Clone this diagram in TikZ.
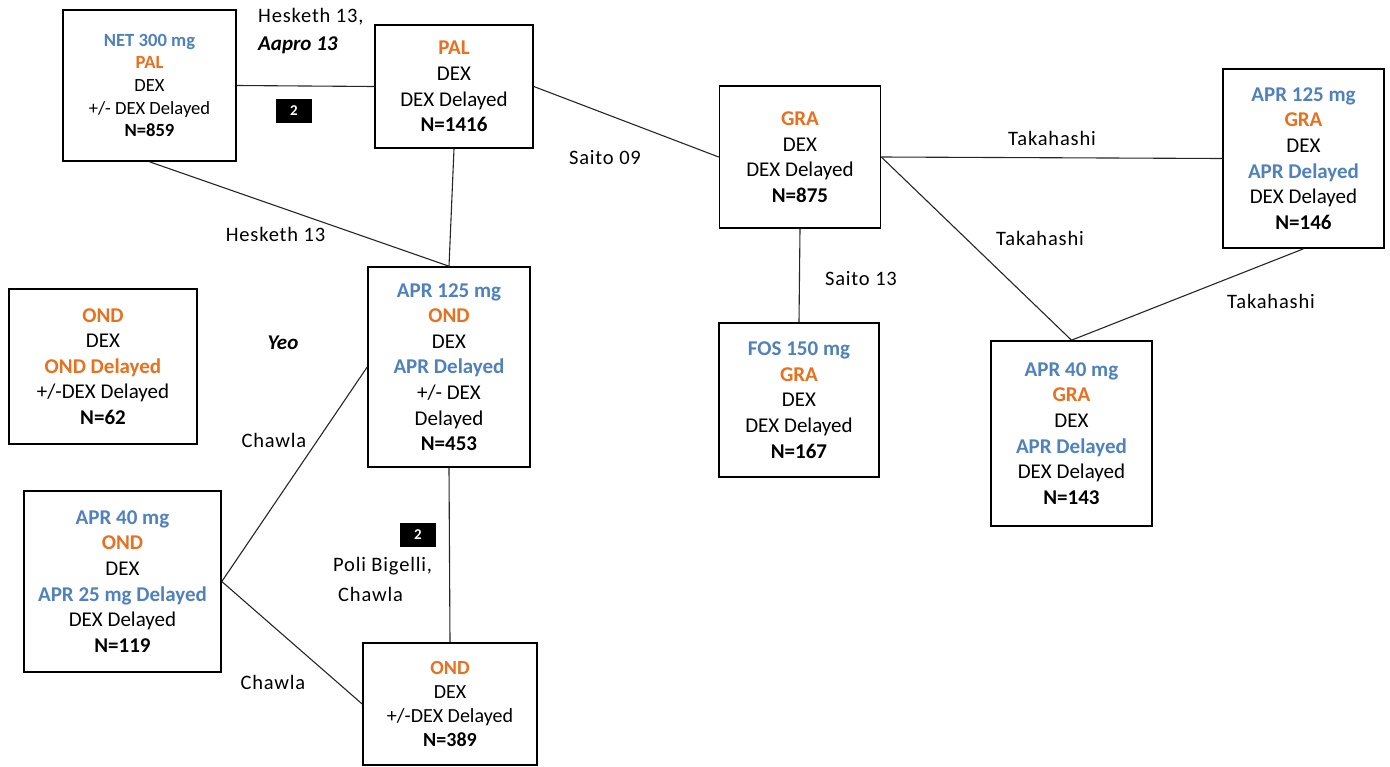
\documentclass[tikz,border=0pt]{standalone}
\usepackage{fontspec}
\setmainfont{Carlito}
\newfontfamily\lblfont[LetterSpace=4]{Carlito}
\definecolor{drugblue}{RGB}{79,129,189}
\definecolor{drugorange}{RGB}{232,112,30}
\newcommand{\Bl}[1]{\textcolor{drugblue}{\textbf{#1}}}
\newcommand{\Or}[1]{\textcolor{drugorange}{\textbf{#1}}}
\begin{document}
\begin{tikzpicture}[x=1pt,y=-1pt,
  arm/.style={draw=black, line width=1.6pt, fill=white, inner sep=0pt,
    align=center, minimum width=#1},
  big/.style={font=\fontsize{21}{25.6}\selectfont},
  small/.style={font=\fontsize{18.6}{22.7}\selectfont},
  mid/.style={font=\fontsize{20}{24}\selectfont},
  link/.style={draw=black!85, line width=1.1pt},
  lbl/.style={font=\lblfont\fontsize{20.5}{24}\selectfont, inner sep=0pt},
  lblbi/.style={font=\fontsize{21}{25}\selectfont\bfseries\itshape, inner sep=0pt},
  tag/.style={fill=black, text=white, font=\fontsize{15}{15}\selectfont\bfseries,
    minimum width=36pt, minimum height=24pt, inner sep=0pt}]
\useasboundingbox (0,0) rectangle (1390,766);

% treatment arms
\node[arm=173pt, minimum height=151pt, small] (net) at (149.5,85.5)
  {\Bl{NET 300 mg}\\\Or{PAL}\\DEX\\+/- DEX Delayed\\\textbf{N=859}};
\node[arm=158pt, minimum height=123pt, big] (pal) at (454,86.5)
  {\Or{PAL}\\DEX\\DEX Delayed\\\textbf{N=1416}};
\node[arm=161pt, minimum height=142pt, big] (gra) at (800,157)
  {\Or{GRA}\\DEX\\DEX Delayed\\\textbf{N=875}};
\node[arm=161pt, minimum height=179pt, big] (aprgra) at (1303.5,158.5)
  {\Bl{APR 125 mg}\\\Or{GRA}\\DEX\\\Bl{APR Delayed}\\DEX Delayed\\\textbf{N=146}};
\node[arm=160pt, minimum height=154pt, big] (fos) at (799,400)
  {\Bl{FOS 150 mg}\\\Or{GRA}\\DEX\\DEX Delayed\\\textbf{N=167}};
\node[arm=161pt, minimum height=185pt, big] (aprlowgra) at (1071.5,433.5)
  {\Bl{APR 40 mg}\\\Or{GRA}\\DEX\\\Bl{APR Delayed}\\DEX Delayed\\\textbf{N=143}};
\node[arm=188pt, minimum height=155pt, big] (ondleft) at (103,366.5)
  {\Or{OND}\\DEX\\\Or{OND Delayed}\\+/-DEX Delayed\\\textbf{N=62}};
\node[arm=162pt, minimum height=200pt, big] (aprond) at (449,367)
  {\Bl{APR 125 mg}\\\Or{OND}\\DEX\\\Bl{APR Delayed}\\+/- DEX\\Delayed\\\textbf{N=453}};
\node[arm=197pt, minimum height=181pt, big] (aprlowond) at (122.5,581.5)
  {\Bl{APR 40 mg}\\\Or{OND}\\DEX\\\Bl{APR 25 mg Delayed}\\DEX Delayed\\\textbf{N=119}};
\node[arm=174pt, minimum height=122pt, mid] (ondbot) at (450,704)
  {\Or{OND}\\DEX\\+/-DEX Delayed\\\textbf{N=389}};

% comparisons between arms
\draw[link] (net.east) -- (pal.west);
\draw[link] (net.south) -- (aprond.north);
\draw[link] (pal.south) -- (aprond.north);
\draw[link] (pal.east) -- (gra.west);
\draw[link] (gra.east) -- (aprgra.west);
\draw[link] (gra.east) -- (aprlowgra.north);
\draw[link] (aprgra.south) -- (aprlowgra.north);
\draw[link] (gra.south) -- (fos.north);
\draw[link] (aprlowond.east) -- (aprond.west);
\draw[link] (aprlowond.east) -- (ondbot.west);
\draw[link] (aprond.south) -- (ondbot.north);

% study labels
\node[lbl, anchor=west] (hesketha) at (258,17) {Hesketh 13,};
\node[lblbi, anchor=west] (aapro) at (258,45) {Aapro 13};
\node[tag] (taga) at (294,110.5) {2};
\node[lbl] (heskethb) at (275.5,234) {Hesketh 13};
\node[lbl] (saitoa) at (605,158) {Saito 09};
\node[lbl] (takaa) at (1052,138) {Takahashi};
\node[lbl] (takab) at (1040,238) {Takahashi};
\node[lbl] (takac) at (1271,301) {Takahashi};
\node[lbl] (saitob) at (861,279) {Saito 13};
\node[lblbi] (yeo) at (283,343) {Yeo};
\node[lbl] (chawlaa) at (274,440) {Chawla};
\node[lbl] (chawlab) at (273,682) {Chawla};
\node[tag] (tagb) at (418,535) {2};
\node[lbl, anchor=west] (poli) at (333,566) {Poli Bigelli,};
\node[lbl, anchor=west] (chawlac) at (338,594) {Chawla};
\end{tikzpicture}
\end{document}
